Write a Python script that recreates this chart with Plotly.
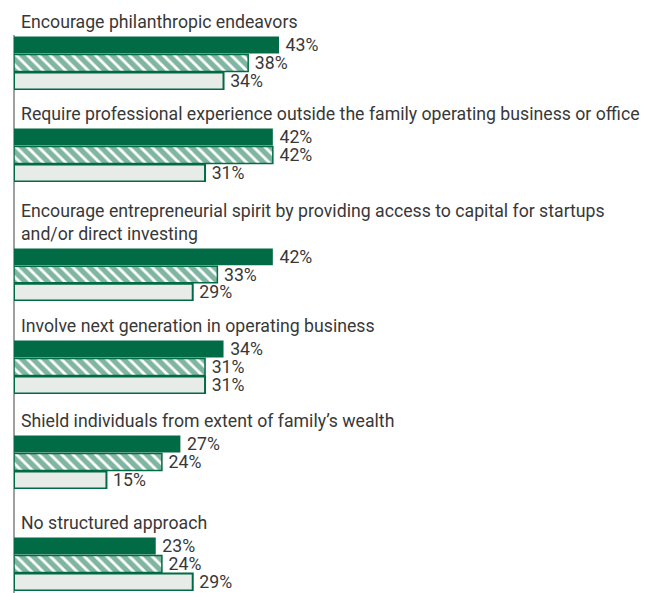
import plotly.graph_objects as go

categories = [
    "Encourage philanthropic endeavors",
    "Require professional experience outside the family operating business or office",
    "Encourage entrepreneurial spirit by providing access to capital for startups<br>and/or direct investing",
    "Involve next generation in operating business",
    "Shield individuals from extent of family’s wealth",
    "No structured approach",
]
series_a = [43, 42, 42, 34, 27, 23]
series_b = [38, 42, 33, 31, 24, 24]
series_c = [34, 31, 29, 31, 15, 29]

GREEN = "#006B44"
FONT = "Roboto"
TXT = "#383838"
OFF = 8  # page body margin
W, H = 658 - OFF, 593 - OFF

# pixel rows (top, bottom) of each group's bar block in the reference
blocks = [(36, 90), (128, 182), (248, 301), (340, 394), (435, 489), (537, 591)]

fig = go.Figure()
styles = [
    dict(color=GREEN, line=dict(color=GREEN, width=0)),
    dict(color="white", line=dict(color=GREEN, width=1.5),
         pattern=dict(shape="\\", fgcolor=GREEN, bgcolor="white", size=8, solidity=0.65)),
    dict(color="#E8ECE9", line=dict(color=GREEN, width=2)),
]

for i, cat in enumerate(categories):
    ya = "y" if i == 0 else f"y{i+1}"
    for vals, st in zip([series_a, series_b, series_c], styles):
        fig.add_trace(go.Bar(
            x=[vals[i]], y=[0], orientation="h", xaxis="x", yaxis=ya,
            marker=st, text=[f"\u2009{vals[i]}%"], textposition="outside",
            constraintext="none", cliponaxis=False,
            textfont=dict(family=FONT, size=17.7, color=TXT),
            showlegend=False, hoverinfo="skip",
        ))
    top, bot = blocks[i]
    top, bot = top - OFF, bot - OFF
    key = "yaxis" if i == 0 else f"yaxis{i+1}"
    fig.layout[key] = dict(domain=[1 - bot / H, 1 - top / H], anchor="x",
                           autorange="reversed", visible=False, fixedrange=True)
    fig.add_annotation(text=cat, xref="paper", x=0, xanchor="left", xshift=5,
                       yref=f"{ya} domain", y=1, yanchor="bottom", yshift=2,
                       showarrow=False, align="left",
                       font=dict(family=FONT, size=17.7, color=TXT))

fig.add_shape(type="line", xref="paper", x0=0, x1=0, yref="paper", y0=0,
              y1=1 - (35 - OFF) / H, line=dict(color="#A0A0A0", width=2), layer="below")

fig.update_layout(
    width=W, height=H,
    margin=dict(l=6, r=0, t=0, b=0),
    barmode="group", bargap=0, bargroupgap=0.06,
    plot_bgcolor="white", paper_bgcolor="white",
    xaxis=dict(range=[0, 104.5], visible=False, fixedrange=True),
)

fig.write_html("out.html")
